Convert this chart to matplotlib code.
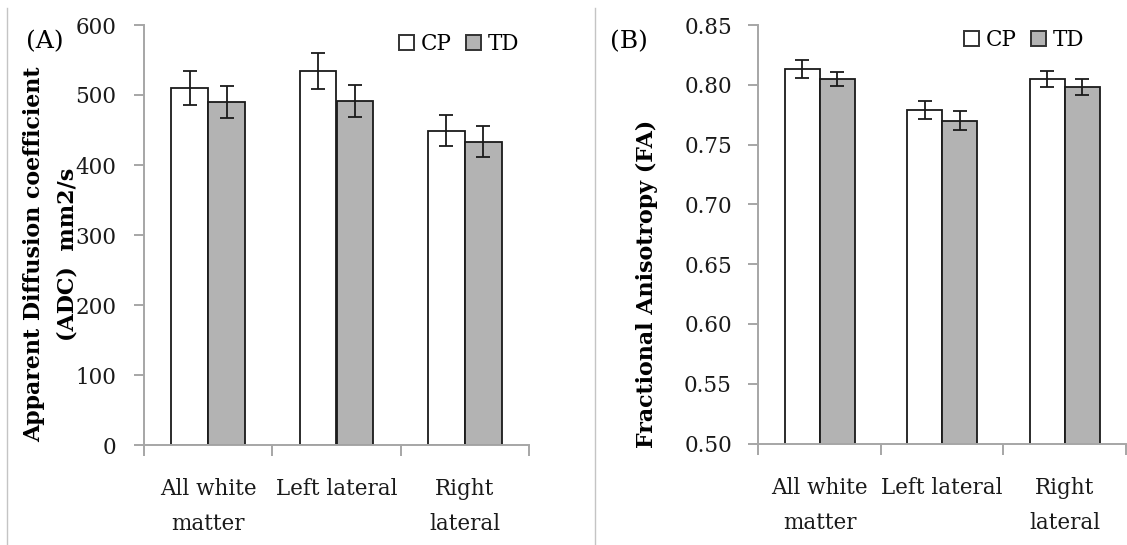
import matplotlib
matplotlib.use("Agg")
import matplotlib.pyplot as plt
from matplotlib.patches import Patch
from matplotlib.lines import Line2D
import numpy as np

# ---- data ----
regions = ["All white\nmatter", "Left lateral", "Right\nlateral"]
groups = ["CP", "TD"]

adc_cp = [510, 534, 449]
adc_cp_err = [24, 26, 22]
adc_td = [490, 491, 433]
adc_td_err = [23, 23, 22]

fa_cp = [0.813, 0.779, 0.805]
fa_cp_err = [0.0075, 0.0077, 0.0067]
fa_td = [0.805, 0.770, 0.798]
fa_td_err = [0.0056, 0.0077, 0.0066]

adc_ticks = [0, 100, 200, 300, 400, 500, 600]
fa_ticks = [0.50, 0.55, 0.60, 0.65, 0.70, 0.75, 0.80, 0.85]

# ---- style ----
W, H = 1127, 545
FONT = "DejaVu Serif"
plt.rcParams["font.family"] = FONT
TICK_FS = 15.5
LABEL_FS = 15.9
SPINE = "#a6a6a6"
EDGE = "#1a1a1a"
TD_FILL = "#b3b3b3"
BAR_W = 0.286

fig = plt.figure(figsize=(W / 100, H / 100), dpi=100)


def px_axes(x0, y0, x1, y1):
    return fig.add_axes([x0 / W, 1 - y1 / H, (x1 - x0) / W, (y1 - y0) / H])


def draw_panel(ax, cp, cp_err, td, td_err, ticks, fmt, ylim, tick_pad):
    x = np.arange(len(regions)) + 0.5
    ek = dict(ecolor=EDGE, elinewidth=1.3, capsize=5, capthick=1.3)
    ax.bar(x - BAR_W / 2, cp, BAR_W, yerr=cp_err, color="white",
           edgecolor=EDGE, linewidth=1.3, error_kw=ek, zorder=2)
    ax.bar(x + BAR_W / 2, td, BAR_W, yerr=td_err, color=TD_FILL,
           edgecolor=EDGE, linewidth=1.3, error_kw=ek, zorder=2)
    ax.set_xlim(0, len(regions))
    ax.set_ylim(*ylim)
    ax.set_yticks(ticks)
    ax.set_yticklabels([fmt.format(t) for t in ticks])
    ax.set_xticks(x)
    ax.set_xticklabels(regions, linespacing=1.75)
    ax.set_xticks(np.arange(len(regions) + 1), minor=True)
    for s in ("top", "right"):
        ax.spines[s].set_visible(False)
    for s in ("left", "bottom"):
        ax.spines[s].set_color(SPINE)
        ax.spines[s].set_linewidth(1.4)
    ax.tick_params(axis="y", length=7, width=1.4, color=SPINE,
                   labelsize=TICK_FS, pad=tick_pad, labelcolor="#1a1a1a")
    ax.tick_params(axis="x", which="major", length=0, labelsize=TICK_FS,
                   pad=24, labelcolor="#1a1a1a")
    ax.tick_params(axis="x", which="minor", length=8, width=1.4,
                   color=SPINE, direction="out")
    ax.set_facecolor("none")


axA = px_axes(144, 25, 529, 445)
draw_panel(axA, adc_cp, adc_cp_err, adc_td, adc_td_err, adc_ticks,
           "{:d}", (0, 600), 13)
axB = px_axes(758.3, 25, 1126, 443.5)
draw_panel(axB, fa_cp, fa_cp_err, fa_td, fa_td_err, fa_ticks,
           "{:.2f}", (0.50, 0.85), 12)

# legends
handles = [Patch(facecolor="white", edgecolor="#333333", linewidth=1.4),
           Patch(facecolor=TD_FILL, edgecolor="#333333", linewidth=1.4)]
for ax, (cx, cy) in ((axA, (459, 44)), (axB, (1024, 40))):
    ax.legend(handles, groups, loc="center", ncol=2, frameon=False,
              fontsize=TICK_FS, handlelength=0.7, handleheight=0.7,
              handletextpad=0.3, columnspacing=0.7,
              bbox_to_anchor=(cx / W, 1 - cy / H),
              bbox_transform=fig.transFigure, borderpad=0, borderaxespad=0)

# axis titles
fig.text(51 / W, 1 - 254 / H, "Apparent Diffusion coefficient\n(ADC)  mm2/s",
         rotation=90, ha="center", va="center", fontsize=LABEL_FS,
         fontweight="bold", multialignment="center", linespacing=1.7)
fig.text(647 / W, 1 - 284 / H, "Fractional Anisotropy (FA)",
         rotation=90, ha="center", va="center", fontsize=LABEL_FS,
         fontweight="bold")

# panel letters
fig.text(45 / W, 1 - 42 / H, "(A)", ha="center", va="center", fontsize=18)
fig.text(629 / W, 1 - 42 / H, "(B)", ha="center", va="center", fontsize=18)

# frame lines
for xp in (7.3, 595):
    fig.add_artist(Line2D([xp / W, xp / W], [0, 1 - 8 / H],
                          transform=fig.transFigure, color="#c4c4c4",
                          linewidth=1.0))

fig.savefig("out.png", dpi=100)
